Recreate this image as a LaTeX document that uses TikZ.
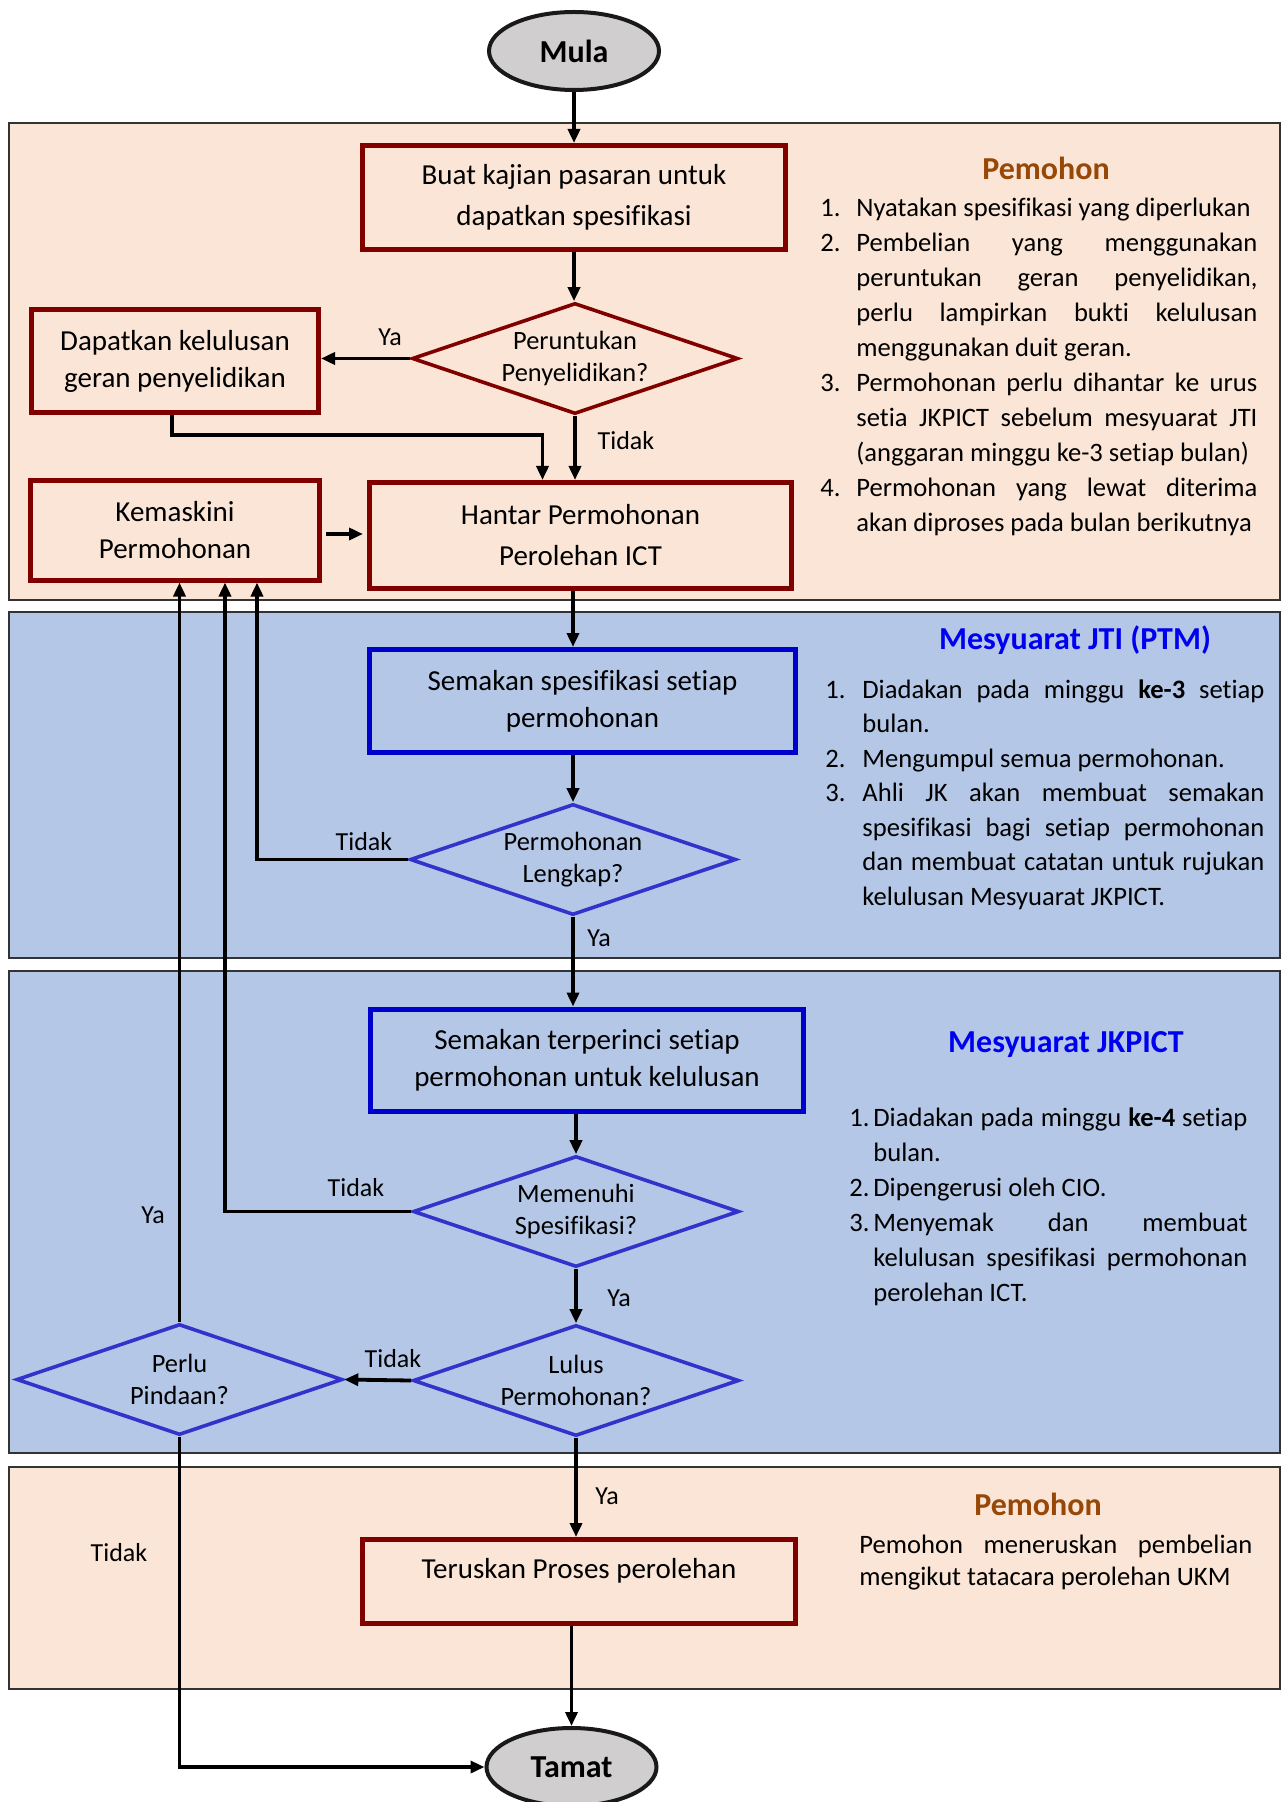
\documentclass[tikz,border=0pt]{standalone}
\usepackage{fontspec}
\setmainfont{Carlito}[Ligatures={NoCommon}]
\usetikzlibrary{shapes.geometric,arrows.meta}

\definecolor{peachlane}{HTML}{FBE5D6}
\definecolor{bluelane}{HTML}{B4C7E7}
\definecolor{boxred}{HTML}{800000}
\definecolor{boxblue}{HTML}{0000CC}
\definecolor{diablue}{HTML}{3333CC}
\definecolor{headbrown}{HTML}{974706}
\definecolor{headblue}{HTML}{0000F0}
\definecolor{termgray}{HTML}{D0CECE}

\newlength{\numw}
\newlength{\txtw}
\newcommand{\fullrow}[2]{\makebox[\numw][l]{#1}\makebox[\txtw][s]{#2}}
\newcommand{\lastrow}[2]{\makebox[\numw][l]{#1}\makebox[\txtw][l]{#2}}

\tikzset{
  lane/.style={draw=black!80, line width=0.8pt},
  term/.style={ellipse, draw=black!90, line width=2pt, fill=termgray,
    minimum width=85pt, minimum height=39pt, inner sep=0pt,
    font=\fontsize{16}{19}\selectfont\bfseries},
  redbox/.style={rectangle, draw=boxred, line width=2.5pt, align=center,
    inner sep=0pt, font=\fontsize{14.5}{18.5}\selectfont},
  bluebox/.style={redbox, draw=boxblue},
  reddia/.style={diamond, aspect=2.9, draw=boxred, line width=1.8pt, align=center,
    minimum width=163pt, minimum height=55.5pt, inner sep=-6pt,
    font=\fontsize{13.2}{16}\selectfont},
  bluedia/.style={reddia, draw=diablue},
  lbl/.style={inner sep=0pt, font=\fontsize{13}{15}\selectfont},
  head/.style={anchor=base, inner sep=0pt, font=\fontsize{16}{19}\selectfont\bfseries},
  listtxt/.style={anchor=base west, inner sep=0pt, align=justify},
  flow/.style={line width=1.9pt, ->},
}

\begin{document}
\begin{tikzpicture}[x=0.5pt,y=-0.5pt,>={Triangle[length=7pt,width=6pt]}]
\useasboundingbox (0,0) rectangle (1282,1802);

% lanes
\draw[lane,fill=peachlane] (9,123) rectangle (1280,600);
\draw[lane,fill=bluelane] (9,612) rectangle (1280,958);
\draw[lane,fill=bluelane] (9,971) rectangle (1280,1453);
\draw[lane,fill=peachlane] (9,1467) rectangle (1280,1689);

% flow
\node[term] (mula) at (574,51) {Mula};
\node[redbox,minimum width=211.5pt,minimum height=52pt] (buat) at (574,197.5) {Buat kajian pasaran untuk\\[2pt]dapatkan spesifikasi};
\node[reddia] (per) at (575,358.5) {Peruntukan\\Penyelidikan?};
\node[redbox,minimum width=143.5pt,minimum height=51.5pt] (dapat) at (175,361) {Dapatkan kelulusan\\geran penyelidikan};
\node[redbox,minimum width=144.5pt,minimum height=50pt] (kemas) at (175,530) {Kemaskini\\Permohonan};
\node[redbox,minimum width=211pt,minimum height=53pt] (hantar) at (580.5,535.5) {Hantar Permohonan\\[2pt]Perolehan ICT};
\node[bluebox,minimum width=213pt,minimum height=51.5pt] (sem1) at (582.5,701) {Semakan spesifikasi setiap\\permohonan};
\node[bluedia] (lengkap) at (573,859.5) {Permohonan\\Lengkap?};
\node[bluebox,minimum width=216.5pt,minimum height=51pt] (sem2) at (587,1060) {Semakan terperinci setiap\\permohonan untuk kelulusan};
\node[bluedia] (penuhi) at (576,1211.5) {Memenuhi\\Spesifikasi?};
\node[bluedia] (lulus) at (576,1380.5) {Lulus\\Permohonan?};
\node[bluedia] (pinda) at (179.5,1379.5) {Perlu\\Pindaan?};
\node[redbox,minimum width=216.5pt,minimum height=42pt] (terus) at (579,1581.5) {\raisebox{5.5pt}[\height][\depth]{Teruskan Proses perolehan}};
\node[term] (tamat) at (571.5,1767) {Tamat};

% connectors
\draw[flow] (mula.south) -- (mula.south |- buat.north);
\draw[flow] (buat.south) -- (buat.south |- per.north);
\draw[flow] (per.west) -- (per.west -| dapat.east);
\draw[flow] (per.south) -- (per.south |- hantar.north);
\draw[flow] ([xshift=-1.5pt]dapat.south) -- ++(0,20) -| ([xshift=-19pt]hantar.north);
\draw[flow] ([xshift=2pt,yshift=-2pt]kemas.east) -- ([xshift=-2pt,yshift=-2pt]kemas.east -| hantar.west);
\draw[flow] (lengkap.north |- hantar.south) -- (lengkap.north |- sem1.north);
\draw[flow] (lengkap.north |- sem1.south) -- (lengkap.north);
\draw[flow] (lengkap.west) -| ([xshift=41pt]kemas.south);
\draw[flow] (lengkap.south) -- (lengkap.south |- sem2.north);
\draw[flow] (penuhi.north |- sem2.south) -- (penuhi.north);
\draw[flow] (penuhi.west) -| ([xshift=25pt]kemas.south);
\draw[flow] (penuhi.south) -- (lulus.north);
\draw[flow] (lulus.west) -- (pinda.east);
\draw[flow] (pinda.north) -- (pinda.north |- kemas.south);
\draw[flow] (pinda.south) |- (tamat.west);
\draw[flow] (lulus.south) -- (lulus.south |- terus.north);
\draw[flow] (terus.south -| tamat.north) -- (tamat.north);

% labels
\node[lbl] (ya1) at (390,337) {Ya};
\node[lbl] (tidak1) at (626,441) {Tidak};
\node[lbl] (tidak2) at (364,842) {Tidak};
\node[lbl] (ya2) at (599,938) {Ya};
\node[lbl] (tidak3) at (356,1188) {Tidak};
\node[lbl] (ya3) at (153,1215) {Ya};
\node[lbl] (ya4) at (619,1298) {Ya};
\node[lbl] (tidak4) at (393,1359) {Tidak};
\node[lbl] (ya5) at (607,1496) {Ya};
\node[lbl] (tidak5) at (119,1553) {Tidak};

% notes
\node[head,text=headbrown] (pemohon1) at (1046,180) {Pemohon};
\node[listtxt,text width=218.5pt,font=\fontsize{13.3}{17.5}\selectfont] (nota1) at (820,217) {\spaceskip=0pt\xspaceskip=0pt\setlength{\numw}{18pt}\setlength{\txtw}{200.5pt}%
\lastrow{1.}{Nyatakan spesifikasi yang diperlukan}\\
\fullrow{2.}{Pembelian yang menggunakan}\\
\fullrow{}{peruntukan geran penyelidikan,}\\
\fullrow{}{perlu lampirkan bukti kelulusan}\\
\lastrow{}{menggunakan duit geran.}\\
\fullrow{3.}{Permohonan perlu dihantar ke urus}\\
\fullrow{}{setia JKPICT sebelum mesyuarat JTI}\\
\lastrow{}{(anggaran minggu ke-3 setiap bulan)}\\
\fullrow{4.}{Permohonan yang lewat diterima}\\
\lastrow{}{akan diproses pada bulan berikutnya}};

\node[head,text=headblue] (jti) at (1075,649) {Mesyuarat JTI (PTM)};
\node[listtxt,text width=219.5pt,font=\fontsize{13.3}{17.25}\selectfont] (nota2) at (825,698) {\spaceskip=0pt\xspaceskip=0pt\setlength{\numw}{18.5pt}\setlength{\txtw}{201pt}%
\fullrow{1.}{Diadakan pada minggu \textbf{ke-3} setiap}\\
\lastrow{}{bulan.}\\
\lastrow{2.}{Mengumpul semua permohonan.}\\
\fullrow{3.}{Ahli JK akan membuat semakan}\\
\fullrow{}{spesifikasi bagi setiap permohonan}\\
\fullrow{}{dan membuat catatan untuk rujukan}\\
\lastrow{}{kelulusan Mesyuarat JKPICT.}};

\node[head,text=headblue] (jkpict) at (1066,1052) {Mesyuarat JKPICT};
\node[listtxt,text width=199pt,font=\fontsize{13.3}{17.5}\selectfont] (nota3) at (849,1126) {\spaceskip=0pt\xspaceskip=0pt\setlength{\numw}{12pt}\setlength{\txtw}{187pt}%
\fullrow{1.}{Diadakan pada minggu \textbf{ke-4} setiap}\\
\lastrow{}{bulan.}\\
\lastrow{2.}{Dipengerusi oleh CIO.}\\
\fullrow{3.}{Menyemak dan membuat}\\
\fullrow{}{kelulusan spesifikasi permohonan}\\
\lastrow{}{perolehan ICT.}};

\node[head,text=headbrown] (pemohon2) at (1038,1515) {Pemohon};
\node[listtxt,text width=196.5pt,font=\fontsize{13.3}{16}\selectfont] (nota4) at (859,1553) {\spaceskip=0pt\xspaceskip=0pt\setlength{\numw}{0pt}\setlength{\txtw}{196.5pt}%
\fullrow{}{Pemohon meneruskan pembelian}\\
\lastrow{}{mengikut tatacara perolehan UKM}};
\end{tikzpicture}
\end{document}
